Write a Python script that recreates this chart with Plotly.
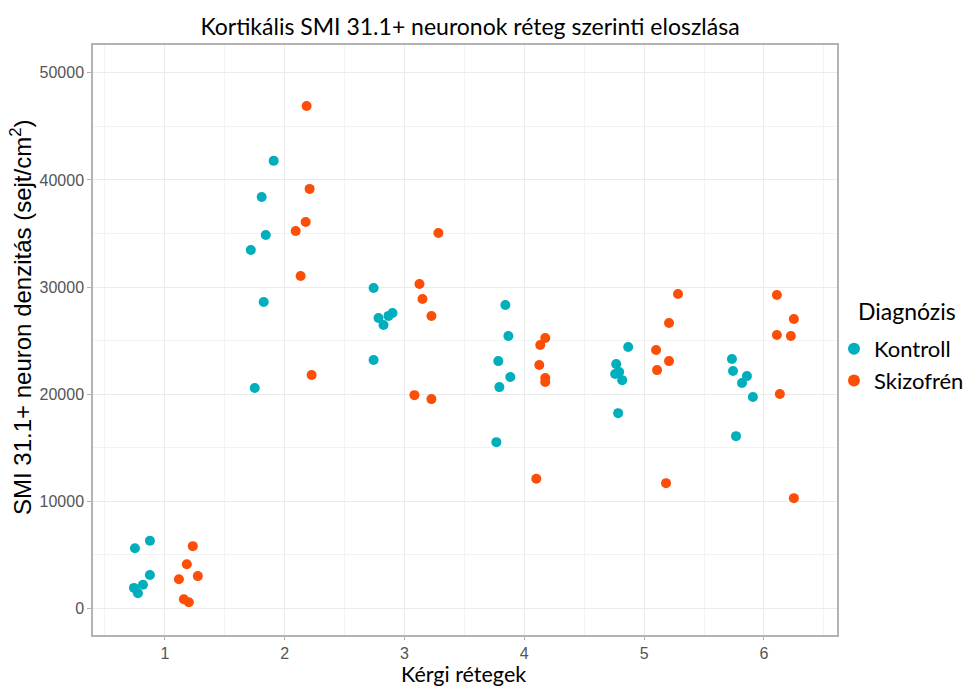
import plotly.graph_objects as go

# Jittered layer positions and SMI 31.1+ densities (cells/cm^2), six samples per layer
kontroll_x = [0.750, 0.875, 0.875, 0.817, 0.742, 0.775,
              1.908, 1.808, 1.842, 1.717, 1.825, 1.750,
              2.742, 2.783, 2.825, 2.867, 2.900, 2.742,
              3.842, 3.867, 3.783, 3.883, 3.792, 3.767,
              4.867, 4.767, 4.792, 4.758, 4.817, 4.783,
              5.733, 5.742, 5.858, 5.817, 5.908, 5.767]
kontroll_y = [5600, 6300, 3100, 2200, 1900, 1400,
              41780, 38400, 34860, 33460, 28600, 20560,
              29900, 27100, 26450, 27300, 27570, 23180,
              28320, 25420, 23080, 21590, 20650, 15510,
              24390, 22800, 22060, 21870, 21300, 18220,
              23270, 22150, 21680, 21030, 19720, 16070]

skizofren_x = [1.233, 1.183, 1.117, 1.275, 1.158, 1.200,
               2.183, 2.208, 2.175, 2.092, 2.133, 2.225,
               3.283, 3.125, 3.150, 3.225, 3.083, 3.225,
               4.175, 4.133, 4.125, 4.175, 4.175, 4.100,
               5.283, 5.208, 5.100, 5.208, 5.108, 5.183,
               6.108, 6.250, 6.108, 6.225, 6.133, 6.250]
skizofren_y = [5800, 4100, 2700, 3000, 840, 560,
               46900, 39160, 36070, 35230, 31030, 21780,
               35050, 30280, 28880, 27290, 19900, 19530,
               25230, 24580, 22710, 21500, 21120, 12100,
               29350, 26640, 24110, 23080, 22240, 11680,
               29250, 27010, 25510, 25420, 20000, 10280]

x_ticks = [1, 2, 3, 4, 5, 6]
y_ticks = [0, 10000, 20000, 30000, 40000, 50000]

TEAL = "#00AFBB"
ORANGE = "#FC4E07"
GRID = "#EBEBEB"
BORDER = "#B3B3B3"
TICKTXT = "#555555"

# plot panel in pixels
L, R, T, B = 93, 837, 45, 635
W, H = R - L, B - T

fig = go.Figure()
fig.add_trace(go.Scatter(x=kontroll_x, y=kontroll_y, mode="markers", name="Kontroll",
                         marker=dict(color=TEAL, size=10, line=dict(width=0))))
fig.add_trace(go.Scatter(x=skizofren_x, y=skizofren_y, mode="markers", name="Skizofrén",
                         marker=dict(color=ORANGE, size=10, line=dict(width=0))))

fig.update_layout(
    width=963, height=686,
    margin=dict(l=L, r=963 - R, t=T, b=686 - B, autoexpand=False),
    paper_bgcolor="white", plot_bgcolor="white",
    title=dict(text="Kortikális SMI 31.1+ neuronok réteg szerinti eloszlása",
               x=470 / 963, xanchor="center", y=1 - 27 / 686, yanchor="middle",
               font=dict(family="Lato", size=23, color="black")),
    showlegend=True,
    legend=dict(x=(834 - L) / W, xanchor="left", y=(B - 328) / H, yanchor="top",
                font=dict(family="Lato", size=22, color="black"),
                bgcolor="rgba(0,0,0,0)", itemsizing="constant",
                tracegroupgap=0, itemwidth=30),
    annotations=[
        dict(text="Diagnózis", xref="paper", yref="paper",
             x=(856 - L) / W, xanchor="left", y=(B - 311) / H, yanchor="middle",
             showarrow=False, font=dict(family="Lato", size=23, color="black")),
        dict(text="SMI 31.1+ neuron denzitás (sejt/cm<sup>2</sup>)", textangle=-90,
             xref="paper", yref="paper",
             x=(21 - L) / W, xanchor="center", y=(B - 317) / H, yanchor="middle",
             showarrow=False, font=dict(family="Liberation Sans", size=24, color="black")),
        dict(text="Kérgi rétegek", xref="paper", yref="paper",
             x=(463 - L) / W, xanchor="center", y=(B - 674) / H, yanchor="middle",
             showarrow=False, font=dict(family="Lato", size=21.5, color="black")),
    ],
)

fig.update_xaxes(
    range=[0.4, 6.61], tickvals=x_ticks, ticktext=[str(v) for v in x_ticks],
    automargin=False,
    showgrid=True, gridcolor=GRID, gridwidth=1.2,
    minor=dict(dtick=0.5, tick0=0.5, showgrid=True, gridcolor="#F3F3F3", gridwidth=1),
    zeroline=False, showline=True, linecolor=BORDER, linewidth=1.5, mirror=True,
    ticks="outside", ticklen=3, tickcolor=BORDER, tickwidth=1,
    tickfont=dict(family="Liberation Sans", size=16, color=TICKTXT),
)
fig.update_yaxes(
    range=[-2500, 52600], tickvals=y_ticks, ticktext=[str(v) for v in y_ticks],
    automargin=False,
    showgrid=True, gridcolor=GRID, gridwidth=1.2,
    minor=dict(dtick=5000, tick0=0, showgrid=True, gridcolor="#F3F3F3", gridwidth=1),
    zeroline=False, showline=True, linecolor=BORDER, linewidth=1.5, mirror=True,
    ticks="outside", ticklen=4, tickcolor=BORDER, tickwidth=1,
    tickfont=dict(family="Liberation Sans", size=16, color=TICKTXT),
)

fig.write_html("out.html")
